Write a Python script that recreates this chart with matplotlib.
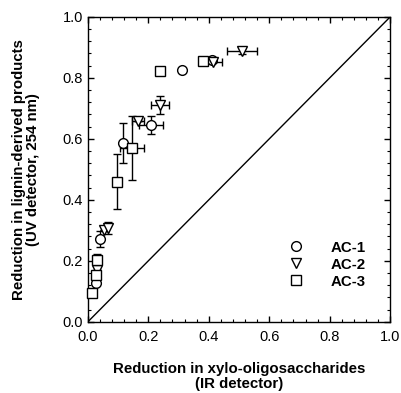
import matplotlib.pyplot as plt
from matplotlib.lines import Line2D
from matplotlib.ticker import MultipleLocator

plt.rcParams['font.family'] = ['Liberation Sans', 'DejaVu Sans']

# AC-1 (circles)
ac1_x = [0.026, 0.040, 0.116, 0.210, 0.310, 0.410]
ac1_y = [0.128, 0.272, 0.587, 0.646, 0.826, 0.860]
ac1_xerr = [0, 0, 0, 0.040, 0, 0]
ac1_yerr = [0, 0.025, 0.065, 0.030, 0, 0]

# AC-2 (triangles)
ac2_x = [0.030, 0.055, 0.066, 0.166, 0.240, 0.415, 0.510]
ac2_y = [0.170, 0.300, 0.308, 0.660, 0.710, 0.853, 0.888]
ac2_xerr = [0, 0, 0, 0.020, 0.030, 0.030, 0.050]
ac2_yerr = [0, 0, 0.020, 0, 0.030, 0, 0.010]

# AC-3 (squares)
ac3_x = [0.013, 0.027, 0.030, 0.097, 0.145, 0.240, 0.380]
ac3_y = [0.095, 0.154, 0.203, 0.460, 0.570, 0.823, 0.856]
ac3_xerr = [0, 0, 0, 0, 0.040, 0, 0]
ac3_yerr = [0, 0, 0.020, 0.090, 0.105, 0, 0]

series = [
    ('AC-1', 'o', ac1_x, ac1_y, ac1_xerr, ac1_yerr),
    ('AC-2', 'v', ac2_x, ac2_y, ac2_xerr, ac2_yerr),
    ('AC-3', 's', ac3_x, ac3_y, ac3_xerr, ac3_yerr),
]

fig = plt.figure(figsize=(4.01, 3.93), dpi=100)
ax = fig.add_axes([0.219, 0.181, 0.754, 0.776])

# 1:1 line
ax.plot([0, 1], [0, 1], color='black', lw=1.0)

handles = []
for name, mk, x, y, xe, ye in series:
    cont = ax.errorbar(x, y, xerr=xe, yerr=ye, fmt=mk, ms=7, mfc='white', mec='black',
                       mew=1.0, ecolor='black', elinewidth=1.0, capsize=3, capthick=1.0,
                       zorder=3)
    for art in cont.get_children():
        art.set_clip_on(False)
    handles.append(Line2D([], [], ls='none', marker=mk, ms=7, mfc='white',
                          mec='black', mew=1.0, label=name))

ax.set_xlim(0, 1)
ax.set_ylim(0, 1)
ax.xaxis.set_major_locator(MultipleLocator(0.2))
ax.yaxis.set_major_locator(MultipleLocator(0.2))
ax.xaxis.set_minor_locator(MultipleLocator(0.04))
ax.yaxis.set_minor_locator(MultipleLocator(0.04))
ax.xaxis.set_major_formatter(lambda v, p: f'{v:.1f}')
ax.yaxis.set_major_formatter(lambda v, p: f'{v:.1f}')
ax.tick_params(which='both', direction='in', top=True, right=True, labelsize=10.5)
ax.tick_params(which='major', length=4, width=1)
ax.tick_params(which='minor', length=2.5, width=0.8)
ax.tick_params(axis='x', pad=6)
for s in ax.spines.values():
    s.set_linewidth(1.0)

ax.set_xlabel('Reduction in xylo-oligosaccharides\n(IR detector)', fontsize=10.8,
              fontweight='bold', labelpad=13, linespacing=1.05)
ax.set_ylabel('Reduction in lignin-derived products\n(UV detector, 254 nm)', fontsize=10.8,
              fontweight='bold', labelpad=16, linespacing=1.05)

ax.legend(handles=handles, loc='lower right', bbox_to_anchor=(0.965, 0.065), frameon=False,
          handletextpad=1.3, labelspacing=0.2, prop={'weight': 'bold', 'size': 10.8})

fig.savefig('out.png', dpi=100)
